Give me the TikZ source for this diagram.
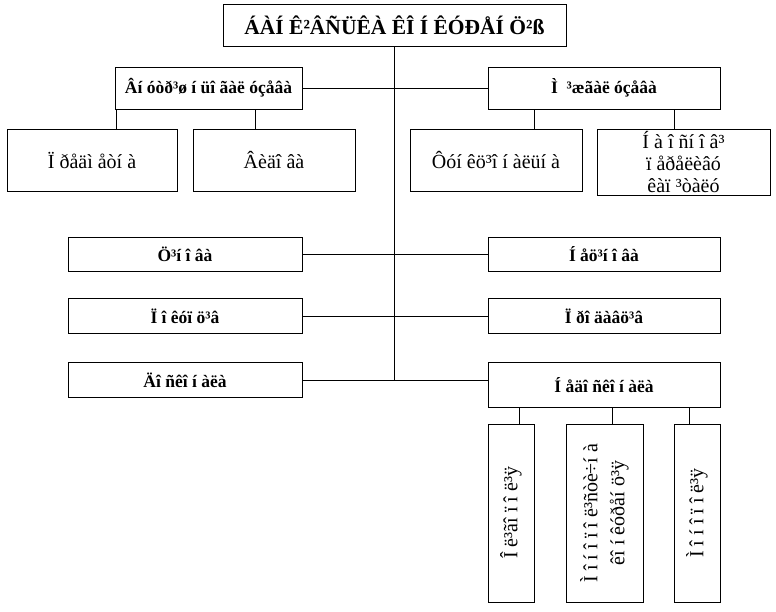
\documentclass[tikz,border=0pt]{standalone}
\usepackage{fontspec}
\setmainfont{Liberation Serif}
\usepackage{tikz}
\usetikzlibrary{positioning}
\tikzstyle{line} = [draw, thick]

\begin{document}
\begin{tikzpicture}[x=1pt, y=-1pt,
	box/.style={draw, thick, rectangle, inner sep=0pt, font=\fontsize{20}{22}\selectfont},
	head/.style={box, font=\fontsize{17.5}{20}\selectfont\bfseries},
	vbox/.style={box, rotate=90, align=center, font=\fontsize{20}{27}\selectfont}]
	\useasboundingbox (0,0) rectangle (776,612);
	%% Levels
	\node [head, minimum width=343, minimum height=42, font=\fontsize{21.5}{24}\selectfont\bfseries] at (394.5,25) (title) {ÁÀÍ Ê²ÂÑÜÊÀ ÊÎ Í ÊÓÐÅÍ Ö²ß};
	\node [head, minimum width=187, minimum height=42] at (208.5,88) (inner) {Âí óòð³ø í üî ãàë óçåâà};
	\node [head, minimum width=232, minimum height=42] at (604,88) (inter) {Ì \ ³æãàë óçåâà};
	\node [box, minimum width=170, minimum height=62] at (92,160) (subject) {Ï ðåäì åòí à};
	\node [box, minimum width=162, minimum height=62] at (274,160) (species) {Âèäî âà};
	\node [box, minimum width=172, minimum height=62] at (496,160) (func) {Ôóí êö³î í àëüí à};
	\node [box, minimum width=173, minimum height=66, align=center] at (683.5,162) (capital) {Í à î ñí î â³\\ï åðåëèâó\\êàï ³òàëó};
	\node [head, minimum width=234, minimum height=34] at (185,254) (price) {Ö³í î âà};
	\node [head, minimum width=232, minimum height=34] at (604,254) (nonprice) {Í åö³í î âà};
	\node [head, minimum width=234, minimum height=35] at (185,316) (buyers) {Ï î êóï ö³â};
	\node [head, minimum width=232, minimum height=35] at (604,316) (sellers) {Ï ðî äàâö³â};
	\node [head, minimum width=234, minimum height=35] at (185,380) (perfect) {Äî ñêî í àëà};
	\node [head, minimum width=232, minimum height=45] at (604,385) (imperfect) {Í åäî ñêî í àëà};
	\node [vbox, minimum width=178, minimum height=46] at (511,513) (oligo) {Î ë³ãî ï î ë³ÿ};
	\node [vbox, minimum width=178, minimum height=77] at (604.5,513) (monocomp) {Ì î í î ï î ë³ñòè÷í à\\êî í êóðåí ö³ÿ};
	\node [vbox, minimum width=178, minimum height=46] at (697,513) (mono) {Ì î í î ï î ë³ÿ};
	%% Links
	\path [line] (title.south) -- (title.south |- perfect.east);
	\foreach \n in {inner, price, buyers, perfect}
		\path [line] (\n.east) -- (\n.east -| title.south);
	\foreach \n in {inter, nonprice, sellers}
		\path [line] (\n.west) -- (\n.west -| title.south);
	\path [line] (perfect.east -| title.south) -- (perfect.east -| imperfect.west);
	\path [line] (inner.south -| subject.north) ++(24,0) -- ++(0,20);
	\path [line] (inner.south -| species.north) ++(-19,0) -- ++(0,20);
	\path [line] (inter.south -| func.north) ++(38,0) -- ++(0,20);
	\path [line] (inter.south -| capital.north) ++(-9.5,0) -- ++(0,20);
	\path [line] (imperfect.south -| oligo.east) ++(8,0) -- ++(0,16);
	\path [line] (imperfect.south -| monocomp.east) ++(7.5,0) -- ++(0,16);
	\path [line] (imperfect.south -| mono.east) ++(-8,0) -- ++(0,16);
\end{tikzpicture}
\end{document}
